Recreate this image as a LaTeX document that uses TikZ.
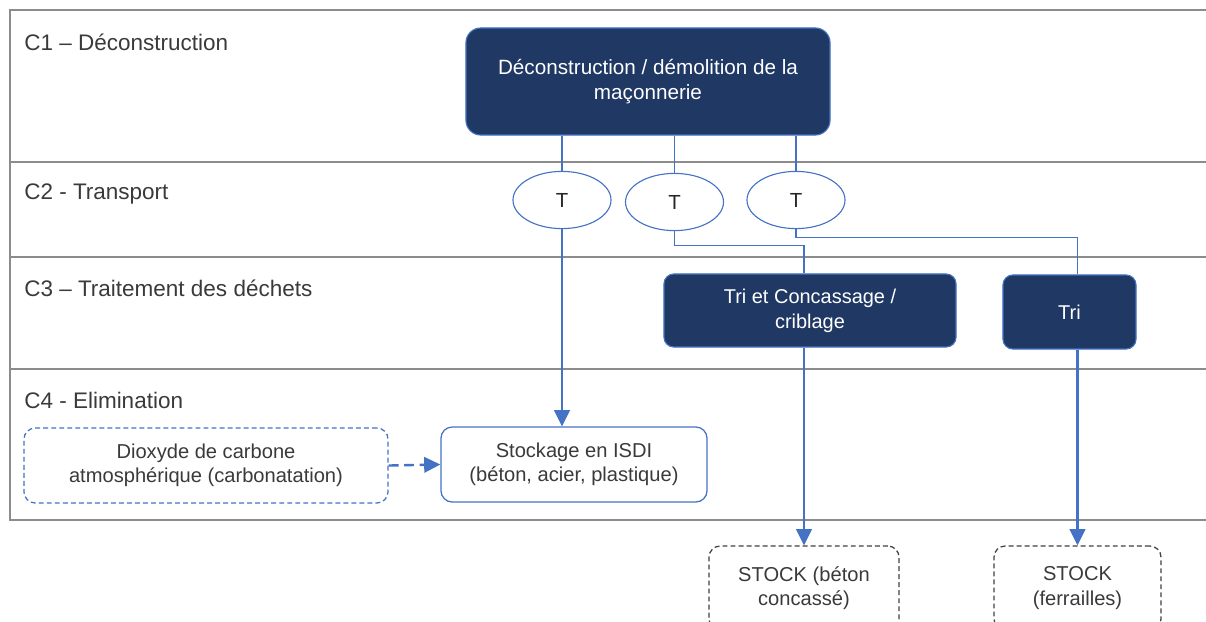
\documentclass[tikz,border=0pt]{standalone}
\usepackage{fontspec}
\setmainfont{Liberation Sans}
\usetikzlibrary{positioning,shapes.geometric,arrows.meta,calc}
\definecolor{navy}{HTML}{1F3864}
\definecolor{flowblue}{HTML}{4472C4}
\definecolor{lanegray}{HTML}{8C8C8C}
\definecolor{txtgray}{HTML}{3A3A3A}
\tikzset{
   lane/.style = {draw=lanegray, line width=0.9pt},
   phase/.style = {%
    anchor=base west,
    inner sep=0pt,
    text=txtgray,
    font=\fontsize{16}{19}\selectfont},
   box/.style = {%
    shape=rectangle,
    rounded corners=7pt,
    draw=flowblue,
    line width=0.8pt,
    fill=navy,
    text=white,
    align=center,
    inner sep=0pt,
    font=\fontsize{14.2}{17.8}\selectfont},
   outbox/.style = {%
    shape=rectangle,
    rounded corners=8pt,
    draw=flowblue,
    line width=0.9pt,
    fill=white,
    text=txtgray,
    align=center,
    inner sep=0pt,
    font=\fontsize{14.3}{17.2}\selectfont},
   stockbox/.style = {outbox, draw=black!75, dash pattern=on 3.5pt off 2.2pt},
   transp/.style = {%
    shape=ellipse,
    draw=flowblue,
    line width=0.8pt,
    minimum width=2.45cm,
    minimum height=1.43cm,
    inner sep=0pt,
    text=black!85,
    font=\fontsize{14.5}{14.5}\selectfont},
   link/.style = {draw=flowblue, line width=0.9pt},
   thick link/.style = {draw=flowblue, line width=1.6pt},
   arrow/.style = {%
    draw=flowblue,
    line width=1.7pt,
    -{Triangle[length=11.5pt,width=11pt]}},
}

\begin{document}
\begin{tikzpicture}[x=0.025cm, y=-0.025cm]
    \useasboundingbox (0,0) rectangle (1206,621);
    \clip (0,0) rectangle (1206,621);
    % swimlanes
    \draw[lane] (1206,10) -- (10,10) -- (10,520) -- (1206,520);
    \foreach \ly in {162,257,369}
        \draw[lane] (10,\ly) -- (1206,\ly);
    \node[phase] (c1) at (24,50) {C1 – Déconstruction};
    \node[phase] (c2) at (24,199) {C2 - Transport};
    \node[phase] (c3) at (24,296) {C3 – Traitement des déchets};
    \node[phase] (c4) at (24,408) {C4 - Elimination};

    % boxes
    \node[box, rounded corners=10.5pt, minimum width=9.1cm, minimum height=2.675cm,
          font=\fontsize{14.7}{17.8}\selectfont] (demol) at (648,81.5)
        {Déconstruction / démolition de la\\maçonnerie};
    \node[transp] (t1) at (562,200) {T};
    \node[transp] (t2) at (674.5,202) {T};
    \node[transp] (t3) at (796,200) {T};
    \node[box, minimum width=7.3cm, minimum height=1.825cm] (tricon) at (810,310.5)
        {Tri et Concassage /\\criblage};
    \node[box, minimum width=3.325cm, minimum height=1.85cm] (tri) at (1069.5,312) {Tri};
    \node[outbox, minimum width=6.65cm, minimum height=1.875cm] (isdi) at (574,464.5)
        {Stockage en ISDI\\(béton, acier, plastique)};
    \node[outbox, dash pattern=on 3.5pt off 2.2pt, minimum width=9.1cm, minimum height=1.875cm] (co2) at (206,465.5)
        {Dioxyde de carbone\\atmosphérique (carbonatation)};
    \node[stockbox, minimum width=4.75cm, minimum height=2.1cm] (stock1) at (804,588)
        {STOCK (béton\\concassé)};
    \node[stockbox, minimum width=4.175cm, minimum height=2.1cm] (stock2) at (1077.5,588)
        {STOCK\\(ferrailles)};

    % flows
    \draw[thick link] (demol.south -| t1.north) -- (t1.north);
    \draw[link] (demol.south -| t2.north) -- (t2.north);
    \draw[link] (demol.south -| t3.north) -- (t3.north);
    \draw[arrow] (t1.south) -- (t1.south |- isdi.north);
    \draw[link] (t2.south) -- ++(0,14) -| (stock1.north |- tricon.north);
    \draw[link] (t3.south) -- ++(0,8) -| (stock2.north |- tri.north);
    \draw[arrow] (stock1.north |- tricon.south) -- (stock1.north);
    \draw[arrow] (stock2.north |- tri.south) -- (stock2.north);
    \draw[arrow, dash pattern=on 7pt off 4pt] (co2.east) -- (isdi.west);
\end{tikzpicture}
\end{document}
